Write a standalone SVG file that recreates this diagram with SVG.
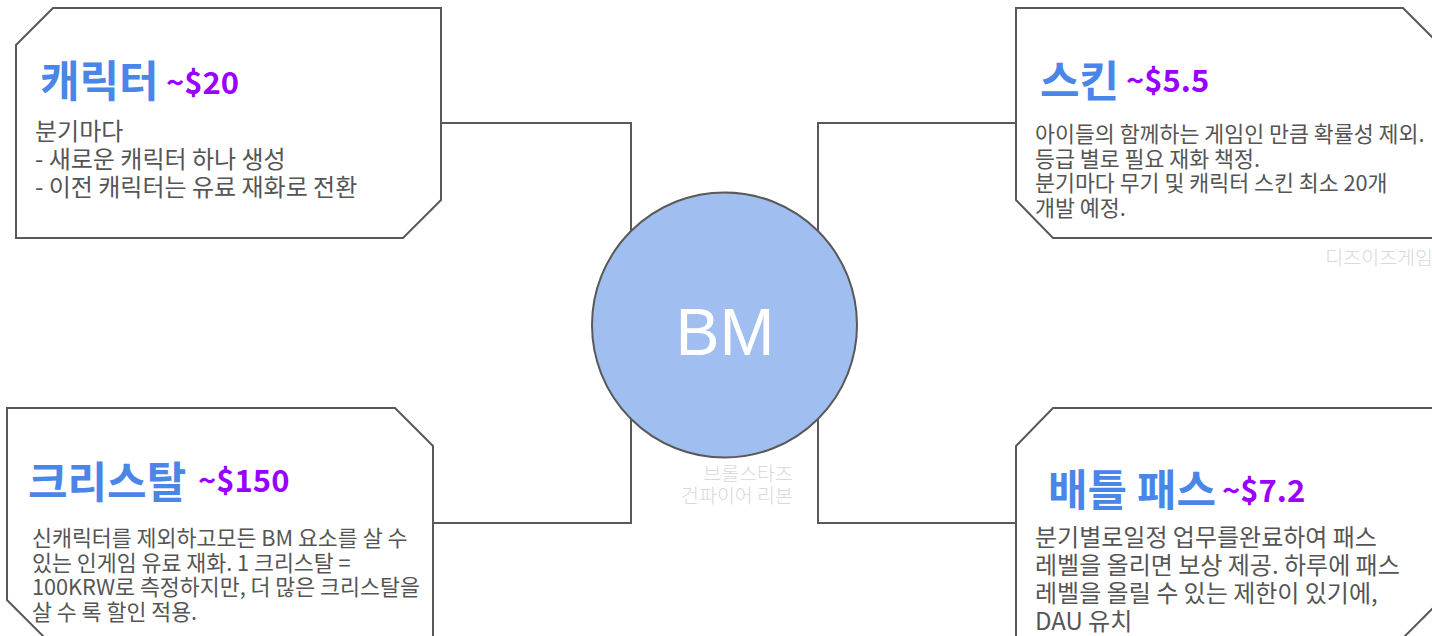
<svg xmlns="http://www.w3.org/2000/svg" width="1432" height="636" viewBox="0 0 1432 636">
<style>
.box{fill:#ffffff;stroke:#595959;stroke-width:2}
.conn{fill:none;stroke:#595959;stroke-width:2}
.title{font-family:"Noto Sans CJK KR","Noto Sans",sans-serif;font-weight:700;font-size:43px;fill:#4a86e8}
.price{font-family:"Noto Sans CJK KR","Noto Sans",sans-serif;font-weight:700;font-size:31px;fill:#9900ff}
.body{font-family:"Noto Sans CJK KR","Noto Sans",sans-serif;fill:#555555}
.b24{font-size:24px}
.b22{font-size:21.7px}
.wm{font-family:"Noto Sans CJK KR","Noto Sans",sans-serif;font-size:19.5px;fill:#d9d9d9;font-weight:300}
</style>
<rect width="1432" height="636" fill="#ffffff"/>
<g id="connectors">
<path class="conn" d="M441 123 H631 V325"/>
<path class="conn" d="M433 523 H631 V325"/>
<path class="conn" d="M1016 123 H818 V325"/>
<path class="conn" d="M1016 523 H818 V325"/>
</g>
<g id="node-character">
<polygon class="box" points="16,45 53,8 441,8 441,200 403,238 16,238"/>
<text class="title" x="40" y="97">캐릭터</text>
<text class="price" x="166" y="94">~$20</text>
<text class="body b24"><tspan x="35" y="140">분기마다</tspan><tspan x="35" y="168">- 새로운 캐릭터 하나 생성</tspan><tspan x="35" y="196">- 이전 캐릭터는 유료 재화로 전환</tspan></text>
</g>
<g id="node-skin">
<polygon class="box" points="1016,8 1403,8 1441,46 1441,238 1053,238 1016,200"/>
<text class="title" x="1040" y="97">스킨</text>
<text class="price" x="1126" y="92">~$5.5</text>
<text class="body b22"><tspan x="1035" y="142">아이들의 함께하는 게임인 만큼 확률성 제외.</tspan><tspan x="1035" y="166.5">등급 별로 필요 재화 책정.</tspan><tspan x="1035" y="191">분기마다 무기 및 캐릭터 스킨 최소 20개</tspan><tspan x="1035" y="215.5">개발 예정.</tspan></text>
<text class="wm" x="1433" y="265" text-anchor="end">디즈이즈게임</text>
</g>
<g id="node-crystal">
<polygon class="box" points="7,408 395,408 433,446 433,638 45,638 7,600"/>
<text class="title" x="28" y="498">크리스탈</text>
<text class="price" x="198" y="492">~$150</text>
<text class="body b22"><tspan x="32" y="546">신캐릭터를 제외하고모든 BM 요소를 살 수</tspan><tspan x="32" y="570.5">있는 인게임 유료 재화. 1 크리스탈 =</tspan><tspan x="32" y="595">100KRW로 측정하지만, 더 많은 크리스탈을</tspan><tspan x="32" y="619.5">살 수 록 할인 적용.</tspan></text>
</g>
<g id="node-battlepass">
<polygon class="box" points="1053,408 1441,408 1441,600 1403,638 1016,638 1016,446"/>
<text class="title" x="1048" y="506">배틀 패스</text>
<text class="price" x="1222" y="502">~$7.2</text>
<text class="body b24"><tspan x="1035" y="546">분기별로일정 업무를완료하여 패스</tspan><tspan x="1035" y="574">레벨을 올리면 보상 제공. 하루에 패스</tspan><tspan x="1035" y="602">레벨을 올릴 수 있는 제한이 있기에,</tspan><tspan x="1035" y="630">DAU 유치</tspan></text>
</g>
<g id="node-bm">
<circle cx="724.5" cy="325" r="132.5" fill="#a0bef0" stroke="#595959" stroke-width="2"/>
<text x="725" y="355" text-anchor="middle" font-family="'Liberation Sans',Arial,sans-serif" font-size="66" fill="#ffffff">BM</text>
<text class="wm" text-anchor="end"><tspan x="793" y="481">브롤스타즈</tspan><tspan x="793" y="503">건파이어 리본</tspan></text>
</g>
</svg>
